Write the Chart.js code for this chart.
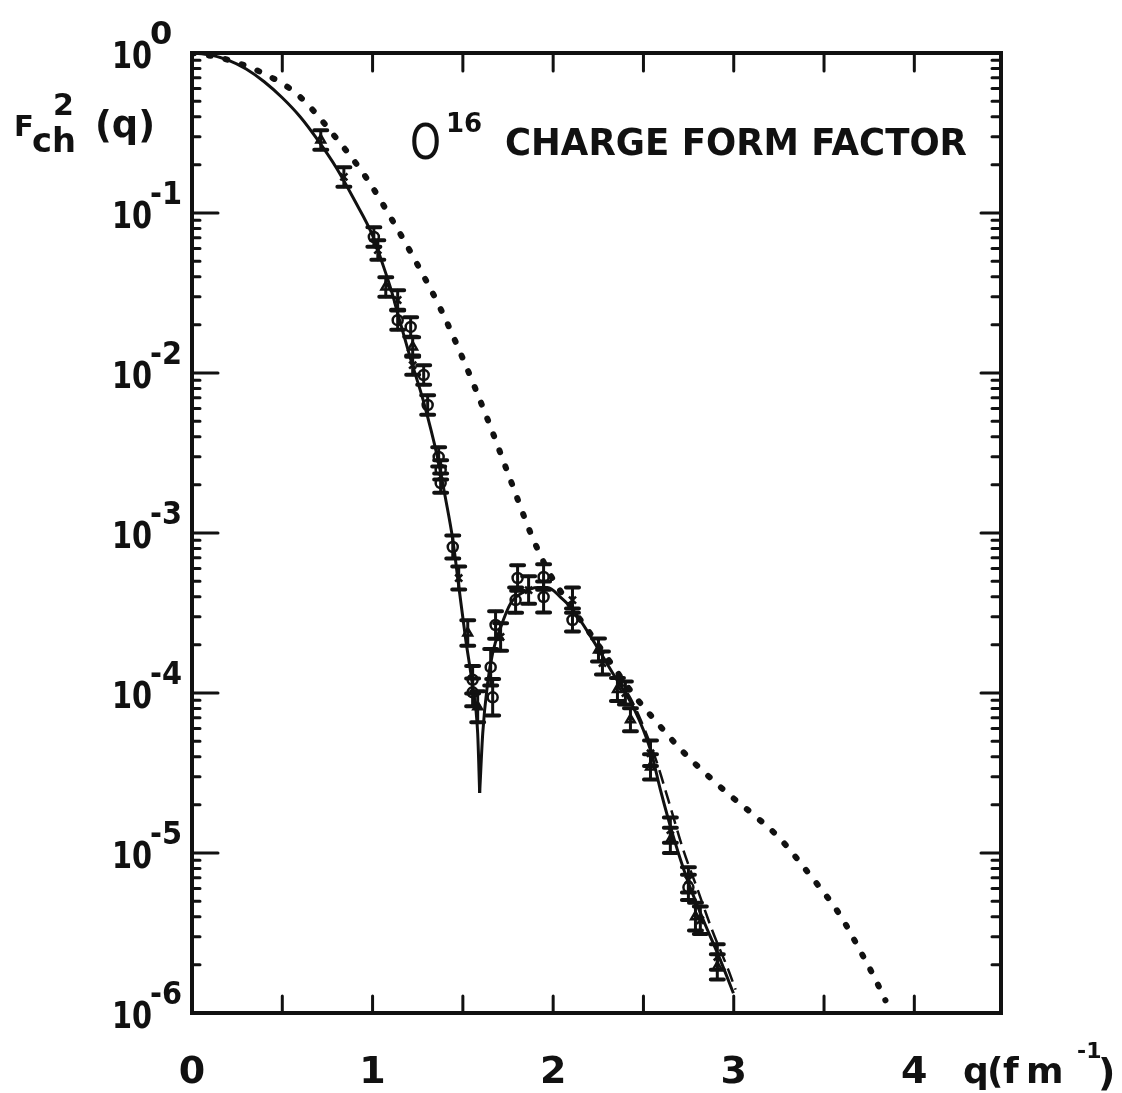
<!DOCTYPE html>
<html>
<head>
<meta charset="utf-8">
<script src="https://cdn.jsdelivr.net/npm/chart.js@4.4.1/dist/chart.umd.min.js"></script>
<style>
  html, body { margin: 0; padding: 0; background: #fff; }
  #wrap { width: 1122px; height: 1093px; position: relative; }
</style>
</head>
<body>
<div id="wrap"><canvas id="c"></canvas></div>
<script>
// ---- solid curve (fit), split at the diffraction minimum so the cusp stays sharp
const solidQ1 = [0, 0.1, 0.2, 0.3, 0.4, 0.5, 0.6, 0.7, 0.8, 0.9, 1.0, 1.05, 1.1, 1.14, 1.21, 1.28, 1.36, 1.405, 1.444, 1.477, 1.515, 1.554, 1.582, 1.593];
const solidF1 = [1, 0.973, 0.902, 0.794, 0.661, 0.525, 0.398, 0.282, 0.191, 0.12, 0.0724, 0.0501, 0.0339, 0.0234, 0.0123, 0.00676, 0.00295, 0.00162, 9.1e-4, 4.68e-4, 2.19e-4, 1.1e-4, 5.6e-5, 2.37e-5];
const solidQ2 = [1.593, 1.61, 1.637, 1.665, 1.709, 1.764, 1.836, 1.914, 1.969, 2.04, 2.11, 2.22, 2.33, 2.445, 2.54, 2.594, 2.666, 2.743, 2.832, 2.926, 2.998];
const solidF2 = [2.37e-5, 5.6e-5, 1.15e-4, 1.78e-4, 2.57e-4, 3.63e-4, 4.27e-4, 4.57e-4, 4.57e-4, 3.98e-4, 3.31e-4, 2.14e-4, 1.33e-4, 8.1e-5, 4.37e-5, 2.48e-5, 1.26e-5, 6.8e-6, 3.8e-6, 2.14e-6, 1.33e-6];

// ---- dashed curve (only separates from the solid one at large q)
const dashQ = [2.35, 2.45, 2.57, 2.638, 2.72, 2.80, 2.88, 2.97, 3.01];
const dashF = [1.3e-4, 8.3e-5, 3.8e-5, 2.14e-5, 1.05e-5, 5.9e-6, 3.3e-6, 1.86e-6, 1.4e-6];

// ---- dotted curve
const dotQ = [0, 0.16, 0.38, 0.586, 0.807, 0.973, 1.117, 1.228, 1.377, 1.504, 1.637, 1.764, 1.875, 1.969, 2.05, 2.2, 2.33, 2.445, 2.594, 2.721, 2.86, 2.98, 3.108, 3.247, 3.424, 3.59, 3.70, 3.78, 3.84];
const dotF = [1, 0.931, 0.76, 0.547, 0.286, 0.161, 0.0871, 0.0525, 0.0251, 0.012, 0.00513, 0.00214, 0.001, 5.89e-4, 4.17e-4, 2.4e-4, 1.48e-4, 9.77e-5, 6.17e-5, 4.27e-5, 3.02e-5, 2.29e-5, 1.74e-5, 1.26e-5, 7.24e-6, 4.07e-6, 2.45e-6, 1.66e-6, 1.2e-6];

// ---- measured points, relative error, marker
const dataQ = [0.713, 0.841, 1.007, 1.029, 1.073, 1.139, 1.139, 1.211, 1.222, 1.222, 1.283, 1.305, 1.366, 1.377, 1.377, 1.444, 1.477, 1.527, 1.554, 1.554, 1.582, 1.654, 1.665, 1.681, 1.709, 1.792, 1.803, 1.864, 1.947, 1.947, 2.107, 2.107, 2.251, 2.273, 2.356, 2.400, 2.428, 2.539, 2.539, 2.649, 2.649, 2.749, 2.749, 2.788, 2.815, 2.909, 2.909];
const dataF = [0.286, 0.168, 0.0708, 0.0587, 0.0345, 0.0286, 0.0214, 0.0194, 0.01455, 0.0112, 0.00972, 0.00631, 0.00299, 0.00248, 0.00205, 8.18e-4, 5.23e-4, 2.37e-4, 1.21e-4, 1.01e-4, 8.2e-5, 1.45e-4, 9.4e-5, 2.66e-4, 2.24e-4, 3.81e-4, 5.23e-4, 4.4e-4, 3.98e-4, 5.31e-4, 3.81e-4, 2.86e-4, 1.86e-4, 1.54e-4, 1.05e-4, 1.0e-4, 6.8e-5, 4.2e-5, 3.45e-5, 1.39e-5, 1.2e-5, 6.8e-6, 6.1e-6, 4.0e-6, 3.8e-6, 2.24e-6, 1.94e-6];
const dataErr = [0.15, 0.15, 0.15, 0.15, 0.15, 0.15, 0.15, 0.15, 0.15, 0.15, 0.15, 0.15, 0.15, 0.15, 0.15, 0.18, 0.18, 0.2, 0.22, 0.22, 0.25, 0.3, 0.3, 0.22, 0.22, 0.2, 0.2, 0.22, 0.25, 0.2, 0.2, 0.18, 0.18, 0.18, 0.18, 0.18, 0.18, 0.2, 0.2, 0.2, 0.2, 0.2, 0.2, 0.22, 0.22, 0.2, 0.2];
const dataMark = ['triangle', 'crossRot', 'circle', 'crossRot', 'triangle', 'crossRot', 'circle', 'circle', 'triangle', 'crossRot', 'circle', 'circle', 'circle', 'circle', 'circle', 'circle', 'crossRot', 'triangle', 'circle', 'circle', 'triangle', 'circle', 'circle', 'circle', 'crossRot', 'circle', 'circle', 'crossRot', 'circle', 'circle', 'crossRot', 'circle', 'triangle', 'crossRot', 'triangle', 'crossRot', 'triangle', 'crossRot', 'triangle', 'crossRot', 'triangle', 'crossRot', 'circle', 'triangle', 'crossRot', 'crossRot', 'triangle'];

// ---- axes
const xMin = 0, xMax = 4.48;
const yMin = 1e-6, yMax = 1;
const xTickVals = [0.5, 1, 1.5, 2, 2.5, 3, 3.5, 4];
const xLabelVals = [0, 1, 2, 3, 4];
const yExps = [0, -1, -2, -3, -4, -5, -6];

const INK = '#111';
const FONT = "'DejaVu Sans', 'Liberation Sans', sans-serif";

const pts = (qs, fs) => qs.map((q, i) => ({ x: q, y: fs[i] }));

// error bars on top of the curves
const errorBars = {
  id: 'errorBars',
  afterDatasetsDraw(chart) {
    const { ctx, scales: { x, y } } = chart;
    ctx.save();
    ctx.strokeStyle = INK;
    ctx.lineCap = 'round';
    dataQ.forEach((q, i) => {
      const px = x.getPixelForValue(q);
      const top = y.getPixelForValue(dataF[i] * (1 + dataErr[i]));
      const bot = y.getPixelForValue(dataF[i] / (1 + dataErr[i]));
      ctx.lineWidth = 3;
      ctx.beginPath();
      ctx.moveTo(px, top); ctx.lineTo(px, bot);
      ctx.stroke();
      ctx.lineWidth = 4;
      ctx.beginPath();
      ctx.moveTo(px - 6.5, top); ctx.lineTo(px + 6.5, top);
      ctx.moveTo(px - 6.5, bot); ctx.lineTo(px + 6.5, bot);
      ctx.stroke();
    });
    ctx.restore();
  }
};

// frame with inward ticks + all the lettering
const frame = {
  id: 'frame',
  afterDraw(chart) {
    const { ctx, chartArea: a, scales: { x, y } } = chart;
    ctx.save();
    ctx.strokeStyle = INK;
    ctx.fillStyle = INK;
    ctx.lineCap = 'round';

    // ticks
    ctx.lineWidth = 3;
    ctx.beginPath();
    xTickVals.forEach(v => {
      const px = x.getPixelForValue(v);
      ctx.moveTo(px, a.bottom); ctx.lineTo(px, a.bottom - 17);
      ctx.moveTo(px, a.top); ctx.lineTo(px, a.top + 18);
    });
    yExps.forEach(e => {
      const py = y.getPixelForValue(Math.pow(10, e));
      ctx.moveTo(a.left, py); ctx.lineTo(a.left + 26, py);
      ctx.moveTo(a.right, py); ctx.lineTo(a.right - 20, py);
      if (e > -6) {
        for (let m = 2; m <= 9; m++) {
          const pm = y.getPixelForValue(m * Math.pow(10, e - 1));
          ctx.moveTo(a.left, pm); ctx.lineTo(a.left + 8, pm);
          ctx.moveTo(a.right, pm); ctx.lineTo(a.right - 9, pm);
        }
      }
    });
    ctx.stroke();

    ctx.lineWidth = 4;
    ctx.lineCap = 'square';
    ctx.strokeRect(a.left, a.top, a.right - a.left, a.bottom - a.top);

    // x tick labels
    ctx.font = 'bold 38px ' + FONT;
    ctx.textAlign = 'center';
    ctx.textBaseline = 'alphabetic';
    xLabelVals.forEach(v => {
      ctx.fillText(String(v), x.getPixelForValue(v), 1083);
    });

    // x title q(fm^-1), letters spaced like the original lettering
    ctx.textAlign = 'left';
    ctx.font = 'bold 36px ' + FONT;
    ctx.fillText('q', 963, 1083);
    ctx.fillText('(', 987, 1083);
    ctx.fillText('f', 1003, 1083);
    ctx.fillText('m', 1026, 1083, 50);
    ctx.font = 'bold 22px ' + FONT;
    ctx.fillText('-1', 1077, 1058);
    ctx.font = 'bold 38px ' + FONT;
    ctx.fillText(')', 1098, 1085);

    // y tick labels 10^n
    yExps.forEach(e => {
      const py = y.getPixelForValue(Math.pow(10, e));
      ctx.font = 'bold 38px ' + FONT;
      ctx.textAlign = 'right';
      ctx.fillText('10', 152, py + 15, 40);
      ctx.font = 'bold 32px ' + FONT;
      ctx.textAlign = 'left';
      ctx.fillText(e === 0 ? '0' : '-' + (-e), 150, py - 9, 32);
    });

    // y title F^2_ch (q)
    ctx.textAlign = 'left';
    ctx.font = 'bold 29px ' + FONT;
    ctx.fillText('F', 14, 136);
    ctx.font = 'bold 30px ' + FONT;
    ctx.fillText('2', 53, 115);
    ctx.font = 'bold 34px ' + FONT;
    ctx.fillText('ch', 32, 152, 44);
    ctx.font = 'bold 38px ' + FONT;
    ctx.fillText('(q)', 95, 137, 60);

    // title inside the frame
    ctx.font = '50px ' + FONT;
    ctx.fillText('O', 410, 159, 31);
    ctx.font = 'bold 26px ' + FONT;
    ctx.fillText('16', 446, 132, 38);
    ctx.font = 'bold 38px ' + FONT;
    ctx.fillText('CHARGE FORM FACTOR', 505, 155, 462);

    ctx.restore();
  }
};

new Chart(document.getElementById('c'), {
  type: 'line',
  data: {
    datasets: [
      {
        data: pts(dotQ, dotF),
        borderColor: INK, borderWidth: 6,
        borderDash: [2, 15], borderCapStyle: 'round',
        pointRadius: 0, cubicInterpolationMode: 'monotone', fill: false
      },
      {
        data: pts(dashQ, dashF),
        borderColor: INK, borderWidth: 2.5,
        borderDash: [14, 7],
        pointRadius: 0, cubicInterpolationMode: 'monotone', fill: false
      },
      {
        data: pts(solidQ1, solidF1),
        borderColor: INK, borderWidth: 3,
        pointRadius: 0, cubicInterpolationMode: 'monotone', fill: false
      },
      {
        data: pts(solidQ2, solidF2),
        borderColor: INK, borderWidth: 3,
        pointRadius: 0, cubicInterpolationMode: 'monotone', fill: false
      },
      {
        data: pts(dataQ, dataF),
        showLine: false,
        pointStyle: dataMark,
        pointRadius: 5,
        pointBorderWidth: 2.5,
        pointBorderColor: INK,
        pointBackgroundColor: '#fff'
      }
    ]
  },
  options: {
    responsive: true,
    maintainAspectRatio: false,
    animation: false,
    events: [],
    layout: { padding: { left: 192, right: 121, top: 53, bottom: 80 } },
    plugins: { legend: { display: false }, tooltip: { enabled: false } },
    scales: {
      x: { type: 'linear', min: xMin, max: xMax, display: false },
      y: { type: 'logarithmic', min: yMin, max: yMax, display: false }
    }
  },
  plugins: [errorBars, frame]
});
</script>
</body>
</html>
